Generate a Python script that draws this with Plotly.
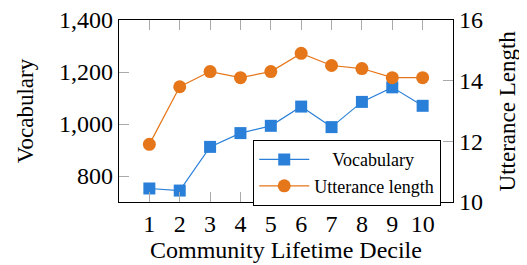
import plotly.graph_objects as go

deciles = [1, 2, 3, 4, 5, 6, 7, 8, 9, 10]
vocabulary = [752, 744, 912, 965, 993, 1067, 988, 1085, 1141, 1070]
utterance_length = [11.9, 13.8, 14.3, 14.1, 14.3, 14.9, 14.5, 14.4, 14.1, 14.1]
left_ticks = [800, 1000, 1200, 1400]
left_tick_text = ["800", "1,000", "1,200", "1,400"]
right_ticks = [10, 12, 14, 16]

BLUE = "#2a80d8"
ORANGE = "#e6761a"
FONT = "Liberation Serif"

fig = go.Figure()
fig.add_trace(go.Scatter(
    x=deciles, y=vocabulary, name="\u00a0\u00a0\u00a0\u00a0Vocabulary", mode="lines+markers",
    line=dict(color=BLUE, width=1.2),
    marker=dict(symbol="square", size=12, color=BLUE),
    yaxis="y",
))
fig.add_trace(go.Scatter(
    x=deciles, y=utterance_length, name="Utterance length", mode="lines+markers",
    line=dict(color=ORANGE, width=1.2),
    marker=dict(symbol="circle", size=13, color=ORANGE),
    yaxis="y2",
))

axis_common = dict(showgrid=False, zeroline=False, ticks="inside", ticklen=10,
                   tickcolor="#aaa", tickwidth=1.2, linecolor="black", linewidth=1.3,
                   showline=True, automargin=False, ticklabeloverflow="allow",
                   tickfont=dict(family=FONT, size=24, color="black"))

fig.update_layout(
    width=519, height=257,
    margin=dict(l=111, r=74, t=12, b=63),
    paper_bgcolor="white", plot_bgcolor="white",
    font=dict(family=FONT, color="black"),
    xaxis=dict(range=[0, 11], tickvals=deciles, mirror="ticks", **axis_common),
    yaxis=dict(range=[700, 1400], tickvals=left_ticks, ticktext=left_tick_text, **axis_common),
    yaxis2=dict(range=[10, 16], tickvals=right_ticks, overlaying="y", side="right", **axis_common),
    legend=dict(x=0.401, y=0.341, xanchor="left", yanchor="top",
                bordercolor="black", borderwidth=1.3, bgcolor="white",
                font=dict(family=FONT, size=18, color="black"),
                itemwidth=50, tracegroupgap=0),
    showlegend=True,
    annotations=[
        dict(text="Community Lifetime Decile", xref="paper", yref="paper", x=0.5,
             y=-0.264, xanchor="center", yanchor="middle", showarrow=False,
             font=dict(family=FONT, size=24, color="black")),
        dict(text="Vocabulary", xref="paper", yref="paper", x=-0.281, y=0.5,
             xanchor="center", yanchor="middle", showarrow=False, textangle=-90,
             font=dict(family=FONT, size=23, color="black")),
        dict(text="Utterance Length", xref="paper", yref="paper", x=1.163, y=0.5,
             xanchor="center", yanchor="middle", showarrow=False, textangle=-90,
             font=dict(family=FONT, size=23, color="black")),
    ],
)

fig.write_html("out.html")
